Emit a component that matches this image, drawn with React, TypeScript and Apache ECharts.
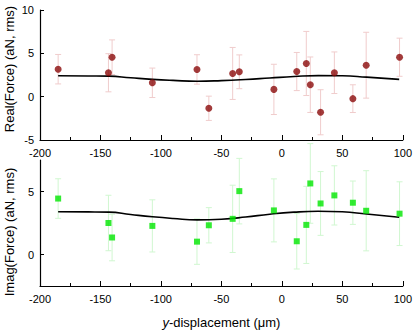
import React, { useEffect, useRef } from "react";
import * as echarts from "echarts";

const xPos = [-185, -143.4, -140.4, -107.1, -70.2, -60.4, -40.7, -35.2, -6.6, 12.3, 20.2, 23.5, 32, 43.4, 58.7, 69.7, 97.3];
const realVals = [3.17, 2.76, 4.55, 1.6, 3.14, -1.34, 2.68, 2.87, 0.84, 2.9, 3.83, 1.38, -1.8, 2.76, -0.23, 3.63, 4.55];
const realErr = [1.7, 2.2, 2.0, 1.7, 1.7, 1.4, 3.0, 1.95, 2.9, 2.2, 3.7, 3.2, 2.6, 2.4, 1.6, 3.8, 2.2];
const imagVals = [4.44, 2.5, 1.35, 2.27, 1.02, 2.32, 2.83, 5.03, 3.5, 1.05, 2.35, 5.64, 4.05, 4.69, 4.11, 3.47, 3.24];
const imagErr = [1.57, 2.2, 1.85, 2.07, 1.8, 1.4, 2.67, 2.6, 2.5, 2.2, 3.06, 3.16, 2.53, 2.35, 1.72, 3.18, 2.53];

const fitX = [-185, -160, -143, -125, -107, -90, -70, -50, -30, -10, 10, 30, 50, 70, 97];
const realFit = [2.41, 2.39, 2.37, 2.18, 2.0, 1.88, 1.78, 1.85, 1.98, 2.15, 2.32, 2.43, 2.41, 2.25, 1.99];
const imagFit = [3.39, 3.38, 3.36, 3.17, 2.99, 2.86, 2.75, 2.8, 2.97, 3.2, 3.36, 3.43, 3.39, 3.21, 2.96];

const xTicks = { min: -200, max: 100, interval: 50 };
const FONT = "Liberation Sans, Arial, sans-serif";

function errorSeries(vals: number[], errs: number[], color: string, idx: number) {
  return {
    type: "custom",
    xAxisIndex: idx,
    yAxisIndex: idx,
    clip: false,
    z: 1,
    data: xPos.map((x, i) => [x, vals[i] - errs[i], vals[i] + errs[i]]),
    renderItem: (params: any, api: any) => {
      const x = api.value(0);
      const lo = api.coord([x, api.value(1)]);
      const hi = api.coord([x, api.value(2)]);
      const hw = 3;
      const style = { stroke: color, lineWidth: 1 };
      return {
        type: "group",
        children: [
          { type: "line", shape: { x1: lo[0], y1: lo[1], x2: hi[0], y2: hi[1] }, style },
          { type: "line", shape: { x1: lo[0] - hw, y1: lo[1], x2: lo[0] + hw, y2: lo[1] }, style },
          { type: "line", shape: { x1: hi[0] - hw, y1: hi[1], x2: hi[0] + hw, y2: hi[1] }, style },
        ],
      };
    },
  };
}

function xAxis(idx: number, withName: boolean) {
  return {
    type: "value",
    gridIndex: idx,
    ...xTicks,
    axisLine: { onZero: false, lineStyle: { color: "#000", width: 1.2 } },
    axisTick: { inside: true, length: 5, lineStyle: { color: "#000" } },
    minorTick: { show: true, splitNumber: 2, length: 3, lineStyle: { color: "#000" } },
    splitLine: { show: false },
    axisLabel: { color: "#000", fontSize: 11, fontFamily: FONT, margin: 7 },
    name: withName ? "{i|y}-displacement (μm)" : "",
    nameLocation: "middle",
    nameGap: 30,
    nameTextStyle: {
      color: "#000",
      fontSize: 13,
      fontFamily: FONT,
      rich: { i: { fontStyle: "italic", fontSize: 13, fontFamily: FONT, color: "#000" } },
    },
  };
}

export default function App() {
  const ref = useRef<HTMLDivElement>(null);
  useEffect(() => {
    document.body.style.margin = "0";
    const chart = echarts.init(ref.current!, null, { renderer: "svg" });
    const yCommon = {
      position: "left",
      axisLine: { show: true, onZero: false, lineStyle: { color: "#000", width: 1.2 } },
      axisTick: { show: true, inside: true, length: 4, lineStyle: { color: "#000" } },
      splitLine: { show: false },
      axisLabel: { color: "#000", fontSize: 11, fontFamily: FONT, margin: 6 },
    };
    chart.setOption({
      animation: false,
      backgroundColor: "#fff",
      grid: [
        { left: 40, top: 10, width: 366, height: 130 },
        { left: 40, top: 160, width: 366, height: 130 },
      ],
      xAxis: [xAxis(0, false), xAxis(1, true)],
      yAxis: [
        { type: "value", gridIndex: 0, min: -5, max: 10, interval: 5, ...yCommon },
        {
          type: "value",
          gridIndex: 1,
          min: -2.5,
          max: 7.5,
          interval: 2.5,
          ...yCommon,
          axisTick: { ...yCommon.axisTick, customValues: [0, 5] },
          axisLabel: { ...yCommon.axisLabel, customValues: [0, 5] },
        },
      ],
      graphic: [
        {
          type: "text",
          x: 9,
          y: 69,
          rotation: Math.PI / 2,
          style: { text: "Real(Force) (aN, rms)", fontSize: 13, fontFamily: FONT, fill: "#000", align: "center", verticalAlign: "middle" },
        },
        {
          type: "text",
          x: 9,
          y: 232,
          rotation: Math.PI / 2,
          style: { text: "Imag(Force) (aN, rms)", fontSize: 13, fontFamily: FONT, fill: "#000", align: "center", verticalAlign: "middle" },
        },
      ],
      series: [
        errorSeries(realVals, realErr, "#f0cccc", 0),
        errorSeries(imagVals, imagErr, "#d0f7d0", 1),
        {
          type: "line",
          xAxisIndex: 0,
          yAxisIndex: 0,
          data: fitX.map((x, i) => [x, realFit[i]]),
          smooth: 0.5,
          showSymbol: false,
          lineStyle: { color: "#000", width: 1.6 },
          z: 2,
        },
        {
          type: "line",
          xAxisIndex: 1,
          yAxisIndex: 1,
          data: fitX.map((x, i) => [x, imagFit[i]]),
          smooth: 0.5,
          showSymbol: false,
          lineStyle: { color: "#000", width: 1.6 },
          z: 2,
        },
        {
          type: "scatter",
          xAxisIndex: 0,
          yAxisIndex: 0,
          data: xPos.map((x, i) => [x, realVals[i]]),
          symbol: "circle",
          symbolSize: 7,
          itemStyle: { color: "#8b0a0a" },
          z: 3,
        },
        {
          type: "scatter",
          xAxisIndex: 1,
          yAxisIndex: 1,
          data: xPos.map((x, i) => [x, imagVals[i]]),
          symbol: "rect",
          symbolSize: 6,
          itemStyle: { color: "#00e600" },
          z: 3,
        },
      ],
    });
    return () => chart.dispose();
  }, []);
  return <div ref={ref} style={{ width: 415, height: 330 }} />;
}
